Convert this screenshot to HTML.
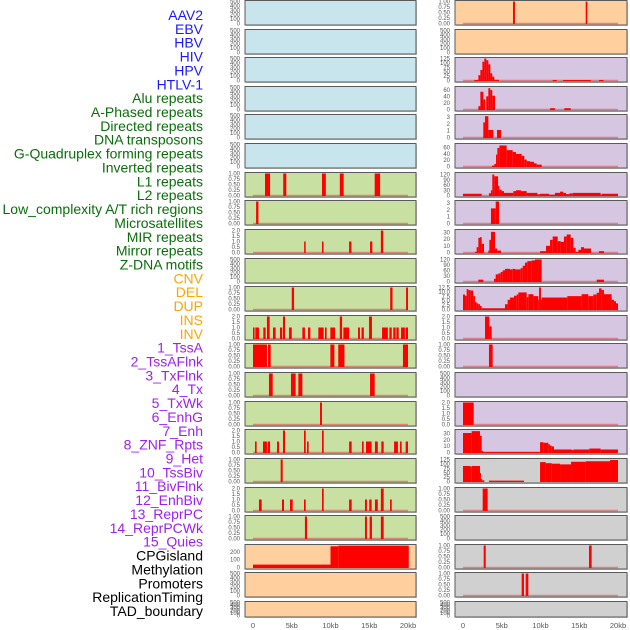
<!DOCTYPE html>
<html><head><meta charset="utf-8"><style>
html,body{margin:0;padding:0;background:#fff;width:630px;height:630px;overflow:hidden}
svg{display:block;font-family:"Liberation Sans",sans-serif}
</style></head><body>
<svg id="chart" width="630" height="630" viewBox="0 0 630 630" xmlns="http://www.w3.org/2000/svg"></svg>
<script>
const labels=["AAV2","EBV","HBV","HIV","HPV","HTLV-1","Alu repeats","A-Phased repeats","Directed repeats","DNA transposons","G-Quadruplex forming repeats","Inverted repeats","L1 repeats","L2 repeats","Low_complexity A/T rich regions","Microsatellites","MIR repeats","Mirror repeats","Z-DNA motifs","CNV","DEL","DUP","INS","INV","1_TssA","2_TssAFlnk","3_TxFlnk","4_Tx","5_TxWk","6_EnhG","7_Enh","8_ZNF_Rpts","9_Het","10_TssBiv","11_BivFlnk","12_EnhBiv","13_ReprPC","14_ReprPCWk","15_Quies","CPGisland","Methylation","Promoters","ReplicationTiming","TAD_boundary"];
const labelColors=["#1a1aff","#1a1aff","#1a1aff","#1a1aff","#1a1aff","#1a1aff","#0a6e0a","#0a6e0a","#0a6e0a","#0a6e0a","#0a6e0a","#0a6e0a","#0a6e0a","#0a6e0a","#0a6e0a","#0a6e0a","#0a6e0a","#0a6e0a","#0a6e0a","#ffa500","#ffa500","#ffa500","#ffa500","#ffa500","#a020f0","#a020f0","#a020f0","#a020f0","#a020f0","#a020f0","#a020f0","#a020f0","#a020f0","#a020f0","#a020f0","#a020f0","#a020f0","#a020f0","#a020f0","#000","#000","#000","#000","#000"];
const xTicks=[0,5,10,15,20];
const xTickLabels=["0","5kb","10kb","15kb","20kb"];
const T500=[0,100,200,300,400,500], T1=[0,0.25,0.5,0.75,1], T2=[0,0.5,1,1.5,2];
const L6=[[1.55,2.2,1],[3.9,4.3,1],[8.9,9.4,1],[11.2,11.7,1],[15.7,16.4,1]];
const L7=[[0.4,0.7,1]];
const L8=[[6.6,6.8,1],[8.9,9.1,1],[12.4,12.7,1],[15.1,15.4,1],[16.5,16.8,2]];
const L10=[[5.0,5.3,1],[17.7,18.0,1],[19.75,20,1]];
const L11=[[0,0.2,1],[0.3,0.77,1],[1.33,1.63,1],[1.8,2.15,2],[2.58,2.92,1],[3.48,3.78,1],[3.87,4.13,2],[4.65,5.0,1],[6.37,6.7,1],[7.1,7.4,1],[8.43,9.12,1],[9.29,9.5,1],[9.98,10.58,1],[11.2,11.5,2],[11.66,12.4,1],[13.55,13.8,1],[14.0,14.3,1],[14.97,15.35,2],[16.65,17.4,1],[17.6,17.9,1],[18.1,18.4,1],[18.5,18.8,1],[19.1,19.6,1],[19.7,20,1]];
const L12=[[0,1.8,1],[1.94,2.28,1],[9.98,10.5,1],[11.0,11.8,1],[19.35,20,1]];
const L13=[[2.06,2.54,1],[4.9,5.5,1],[5.85,6.37,1],[15.1,15.7,1]];
const L14=[[8.65,8.9,1]];
const L15=[[0.26,0.47,1],[1.29,1.8,1],[1.9,2.2,1],[3.1,3.35,1],[3.87,4.13,2],[6.58,6.8,2],[6.97,7.18,1],[8.9,9.12,2],[12.4,12.73,1],[14.06,14.28,1],[14.58,15.3,1],[15.74,16.1,1],[16.56,16.86,1],[18.2,18.7,1],[18.97,19.18,1],[19.7,20,1]];
const L16=[[3.57,3.83,1]];
const L17=[[0.77,1.12,1],[3.74,4.0,1],[4.77,5.12,1],[6.58,6.8,1],[8.9,9.12,2],[12.4,12.73,1],[14.45,14.7,1],[15.0,15.3,1],[15.74,16.1,1],[16.5,16.86,2],[17.68,17.9,1]];
const L18=[[6.7,6.97,1],[14.45,14.7,1],[15.05,15.35,1],[16.5,16.86,1]];
const L19=[[0,10,37],[10,11,270],[11,20.1,278]];
const R0=[[6.45,6.7,1],[15.83,16.04,1]];
const R2=[[1.46,1.98,3],[1.98,2.24,30],[2.24,2.5,60],[2.5,2.75,107],[2.75,3.0,125],[3.0,3.27,115],[3.27,3.53,92],[3.53,3.78,41],[3.78,4.04,22],[4.04,4.65,4],[11.57,12.1,3],[12.9,16.5,3],[17.55,18.15,3]];
const R3=[[1.98,2.24,10],[2.24,2.62,54],[2.62,2.88,31],[3.0,3.27,40],[3.27,3.53,65],[3.53,3.78,59],[3.78,4.13,42],[11.23,11.87,4],[13.07,13.9,4]];
const R4=[[2.62,2.84,2.2],[2.84,3.27,3.1],[3.27,3.91,1.1],[4.39,4.9,1.1]];
const R5=[[3.74,4.04,3],[4.04,4.26,8],[4.26,4.43,38],[4.43,4.69,59],[4.69,5.63,67],[5.63,6.41,52],[6.41,6.84,46],[6.84,7.57,40],[7.57,7.91,34],[7.91,8.22,22],[8.22,8.65,17],[8.65,9.16,15],[9.16,9.51,10],[9.51,10.15,6]];
const R6=[[0,2.41,10],[3.35,3.61,13],[3.61,3.78,30],[3.78,4.04,120],[4.04,4.52,110],[4.52,4.69,55],[4.69,4.99,33],[4.99,5.29,25],[5.29,6.49,15],[6.49,6.84,25],[6.84,7.48,30],[7.48,8.22,25],[8.22,9.59,15],[9.59,9.94,7],[9.94,11.1,10],[11.1,11.87,5],[11.87,12.52,15],[12.52,12.95,22],[12.95,13.29,15],[13.29,13.72,8],[13.72,14.15,12],[14.15,17.76,15],[17.76,17.9,5],[17.9,20,10]];
const R7=[[3.61,4.22,2.2],[4.22,4.65,3.2]];
const R8=[[1.55,1.76,1],[1.76,1.98,8],[1.98,2.19,22],[2.19,2.41,23],[2.41,2.71,13],[3.27,3.4,3],[3.4,3.61,19],[3.61,4.13,31],[4.13,4.43,6],[4.43,4.9,3],[9.94,10.71,2],[10.71,11.23,10],[11.23,11.57,19],[11.57,12.22,24],[12.22,12.6,17],[12.6,13.03,16],[13.03,13.38,24],[13.38,13.89,27],[13.89,14.24,22],[14.24,14.54,7],[14.54,14.88,1],[14.88,15.23,4],[15.23,15.61,8],[15.61,16.52,6],[17.55,18.19,2]];
const R9=[[1.98,2.62,10],[4.0,4.22,15],[4.22,4.56,39],[4.56,4.86,44],[4.86,5.12,52],[5.12,5.42,61],[5.42,6.06,69],[6.06,6.41,66],[6.41,6.71,69],[6.71,7.44,66],[7.44,7.7,73],[7.7,8.0,86],[8.0,8.3,103],[8.3,8.86,111],[8.86,9.29,115],[9.29,10.15,120],[17.25,18.19,10]];
const R10=[[0,0.26,8.5],[0.26,0.47,7.8],[0.47,0.69,11.6],[0.69,0.99,11],[0.99,1.33,10.8],[1.33,1.55,7.6],[1.55,1.76,4.2],[1.76,1.98,3.5],[1.98,2.19,3],[2.19,2.41,2],[2.41,5.42,0.7],[5.42,5.76,3],[5.76,6.06,5.5],[6.06,6.58,6.8],[6.58,6.92,7.8],[6.92,7.14,8.5],[7.14,8.22,9.7],[8.22,8.43,7],[8.43,9.08,8.7],[9.08,9.72,7.6],[9.72,9.81,5.5],[9.81,10.06,12.5],[10.06,10.15,5.5],[10.15,13.46,6.8],[13.46,15.31,7.6],[15.31,16.17,8.7],[16.17,16.82,7.6],[16.82,17.25,8.5],[17.25,17.55,9.5],[17.55,17.89,12],[17.89,18.19,11.1],[18.19,19.18,8.7],[19.18,19.48,5.5],[19.48,19.74,4.7],[19.74,20,3.5]];
const R11=[[2.84,3.4,2],[3.4,3.7,1.1]];
const R12=[[3.35,3.83,1]];
const R14=[[0,1.38,2]];
const R15=[[0,1.12,31],[1.12,2.19,34],[2.19,2.41,26.5],[2.41,2.62,2.4],[2.62,9.94,1],[9.94,10.37,16.4],[10.37,11.01,15.5],[11.01,11.23,13],[11.23,11.44,11],[11.44,11.74,9.7],[11.74,14.02,4.8],[14.02,14.24,4],[14.24,16.3,4.8],[16.3,17.76,6.3],[17.76,20,4.8]];
const R16=[[0,0.9,89],[0.9,1.12,86],[1.12,2.19,89],[2.19,2.32,48],[2.32,2.49,14],[2.49,2.75,7],[3.35,7.87,5],[9.94,10.67,111],[10.67,11.44,105],[11.44,12.52,102],[12.52,13.94,98],[13.94,15.83,113],[15.83,18.97,116],[18.97,20,123]];
const R17=[[2.54,3.18,1]];
const R19=[[2.67,2.93,1],[16.26,16.6,1]];
const R20=[[7.57,7.87,1],[8.09,8.43,1]];

const BLUE="#c8e4ec",GREEN="#c8e1a3",ORANGE="#ffd09e",PURPLE="#d6c6e2",GRAY="#d0d0d0";
const leftPanels=[[[],500,T500,BLUE,0],[[],500,T500,BLUE,0],[[],500,T500,BLUE,0],[[],500,T500,BLUE,0],[[],500,T500,BLUE,0],[[],500,T500,BLUE,0],
[L6,1,T1,GREEN,1],[L7,1,T1,GREEN,1],[L8,2,T2,GREEN,1],[[],500,T500,GREEN,0],[L10,1,T1,GREEN,1],[L11,2,T2,GREEN,1],[L12,1,T1,GREEN,1],[L13,1,T1,GREEN,1],[L14,1,T1,GREEN,1],[L15,2,T2,GREEN,1],[L16,1,T1,GREEN,1],[L17,2,T2,GREEN,1],[L18,1,T1,GREEN,1],
[L19,280,[0,100,200],ORANGE,0],[[],500,T500,ORANGE,0],[[],500,T500,ORANGE,0]];
const rightPanels=[[R0,1,T1,ORANGE,1],[[],500,T500,ORANGE,0],
[R2,125,[0,25,50,75,100,125],PURPLE,1],[R3,67,[0,20,40,60],PURPLE,1],[R4,3.2,[0,1,2,3],PURPLE,1],[R5,70,[0,20,40,60],PURPLE,1],[R6,126,[0,30,60,90,120],PURPLE,1],[R7,3.2,[0,1,2,3],PURPLE,1],[R8,33,[0,10,20,30],PURPLE,1],[R9,120,[0,30,60,90,120],PURPLE,1],[R10,12.5,[0,2.5,5,7.5,10,12.5],PURPLE,1],[R11,2,T2,PURPLE,1],[R12,1,T1,PURPLE,1],[[],500,T500,PURPLE,0],[R14,2,T2,PURPLE,1],[R15,35,[0,10,20,30],PURPLE,1],
[R16,126,[0,25,50,75,100,125],GRAY,0],[R17,1,T1,GRAY,1],[[],500,T500,GRAY,0],[R19,1,T1,GRAY,1],[R20,1,T1,GRAY,1],[[],500,T500,GRAY,0]];

const NS="http://www.w3.org/2000/svg";
const svg=document.getElementById("chart");
function mk(tag,attrs,parent){const e=document.createElementNS(NS,tag);for(const k in attrs)e.setAttribute(k,attrs[k]);(parent||svg).appendChild(e);return e;}
function fmt(t,ymax){if(ymax<=1)return t.toFixed(2);if(ymax<=2.5||ymax===12.5)return t.toFixed(1);return String(t);}

labels.forEach((s,i)=>{
  const t=mk("text",{x:203,y:15+i*13.86+5,"text-anchor":"end","font-size":"14",fill:labelColors[i]});
  
  
  t.textContent=s;
});

const cols=[{x0:245,x1:416,d0:253,d1:408,panels:leftPanels,name:'left'},{x0:455,x1:627,d0:463,d1:618,panels:rightPanels,name:'right'}];
cols.forEach(c=>{
  const xs=kb=>c.d0+(kb/20)*(c.d1-c.d0);
  c.panels.forEach((p,i)=>{
    const top=Math.round(i*28.62)+0.5, h=(i===21)?15.5:24.5, bot=top+h;
    const g=mk("g",{});
    
    
    mk("rect",{x:c.x0+1,y:top+1,width:c.x1-c.x0,height:h,fill:"#999",opacity:"0.5"},g);
    mk("rect",{x:c.x0,y:top,width:c.x1-c.x0,height:h,fill:p[3],stroke:"#5a5a5a","stroke-width":"1"},g);
    const ymax=p[1];
    const ys=v=>(bot-1.5)-(v/ymax)*(h-2.5);
    if(p[4]) mk("line",{x1:xs(0),x2:xs(20),y1:bot-1.5,y2:bot-1.5,stroke:"#e05050","stroke-width":"1.5",opacity:"0.6"},g);
    p[0].forEach(s=>{
      const r=mk("rect",{x:xs(s[0]),y:ys(s[2]),width:Math.max(1,xs(s[1])-xs(s[0])),height:(bot-1)-ys(s[2]),fill:"#ff0000"},g);
      
      
    });
    p[2].forEach(t=>{
      const tt=mk("text",{x:c.x0-5,y:ys(t)+2,"text-anchor":"end","font-size":"6",fill:"#555"},g);
      
      
      tt.textContent=fmt(t,ymax);
    });
  });
  xTicks.forEach((t,j)=>{
    const tx=mk("text",{x:xs(t),y:628,"text-anchor":"middle","font-size":"7.5",fill:"#555"});
    
    
    tx.textContent=xTickLabels[j];
  });
});
</script>
</body></html>
